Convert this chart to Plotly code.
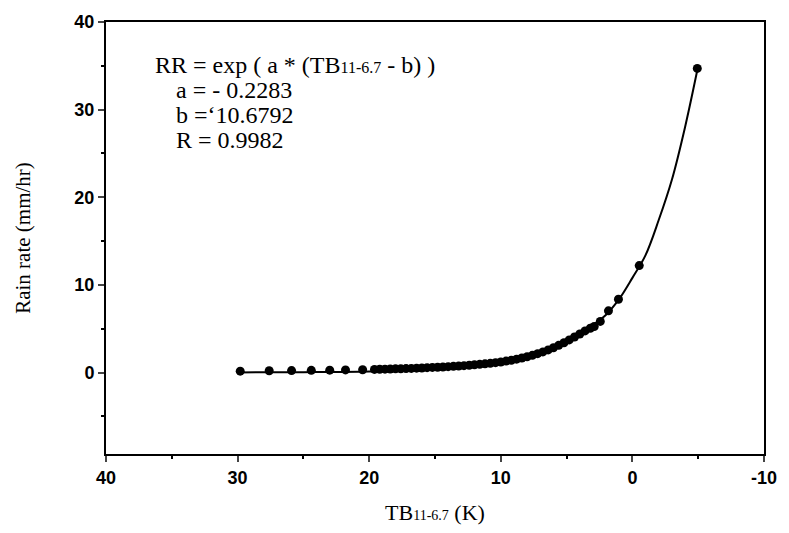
import plotly.graph_objects as go

obs_x = [29.8, 27.6, 25.9, 24.4, 23.0, 21.8, 20.5,
         19.6, 19.2, 18.8, 18.4, 18.0, 17.6, 17.2, 16.8, 16.4, 16.0, 15.6, 15.2,
         14.8, 14.4, 14.0, 13.6, 13.2, 12.8, 12.4, 12.0, 11.6, 11.2, 10.8, 10.4,
         10.0, 9.6, 9.2, 8.8, 8.4, 8.0, 7.6, 7.2, 6.8, 6.4, 6.0, 5.6, 5.2, 4.8,
         4.4, 4.0, 3.6, 3.2, 2.9,
         2.44, 1.82, 1.06, -0.52, -4.93]
obs_y = [0.15, 0.2, 0.22, 0.25, 0.27, 0.3, 0.32,
         0.35, 0.37, 0.38, 0.4, 0.42, 0.43, 0.45, 0.47, 0.5, 0.52, 0.55, 0.58,
         0.6, 0.63, 0.67, 0.7, 0.74, 0.78, 0.83, 0.88, 0.93, 0.99, 1.05, 1.12,
         1.2, 1.3, 1.4, 1.52, 1.65, 1.8, 1.96, 2.15, 2.35, 2.58, 2.83, 3.1, 3.4, 3.72,
         4.05, 4.4, 4.75, 5.05, 5.25,
         5.83, 7.04, 8.36, 12.2, 34.7]

# Fitted curve
fit_x = [30, 25, 20, 15, 10, 7, 5, 3, 2, 1, 0, -1, -2, -3, -4, -5]
fit_y = [0.01, 0.04, 0.12, 0.37, 1.17, 2.3, 3.66, 5.4, 6.6, 8.4, 10.8, 13.4, 17.4, 22.0, 28.0, 35.0]

x_ticks = [40, 30, 20, 10, 0, -10]
x_tick_text = ["40", "30", "20", "10", "0", "-10"]
y_ticks = [0, 10, 20, 30, 40]

serif = "Liberation Serif, Times New Roman, serif"
sans = "Liberation Sans, Arial, sans-serif"

fig = go.Figure()
fig.add_trace(go.Scatter(x=fit_x, y=fit_y, mode="lines",
                         line=dict(color="black", width=2, shape="spline"),
                         showlegend=False, hoverinfo="skip"))
fig.add_trace(go.Scatter(x=obs_x, y=obs_y, mode="markers",
                         marker=dict(color="black", size=9),
                         showlegend=False))

fig.add_annotation(x=0.071, y=0.901, xref="paper", yref="paper", xanchor="left", yanchor="middle",
                   text="RR = exp ( a * (TB<span style='font-size:16px'>11-6.7</span> - b) )",
                   showarrow=False, font=dict(family=serif, size=24, color="black"))
for i, t in enumerate(["a = - 0.2283", "b =‘10.6792", "R = 0.9982"]):
    fig.add_annotation(x=0.104, y=0.843 - i * 0.058, xref="paper", yref="paper",
                       xanchor="left", yanchor="middle", text=t, showarrow=False,
                       font=dict(family=serif, size=24, color="black"))

fig.update_xaxes(range=[40, -10], tickvals=x_ticks, ticktext=x_tick_text,
                 ticks="outside", ticklen=6, tickwidth=1.5,
                 minor=dict(dtick=5, ticks="outside", ticklen=3, tickcolor="black"),
                 showline=True, linecolor="black", linewidth=2, mirror=True,
                 showgrid=False, zeroline=False,
                 tickfont=dict(family=sans, size=18, color="black", weight="bold"),
                 title=dict(text="TB<span style='font-size:14px'>11-6.7</span> (K)",
                            font=dict(family=serif, size=22, color="black"), standoff=18))
fig.update_yaxes(range=[-9.3, 40], tickvals=y_ticks, ticks="outside", ticklen=6, tickwidth=1.5,
                 minor=dict(dtick=5, ticks="outside", ticklen=3, tickcolor="black"),
                 showline=True, linecolor="black", linewidth=2, mirror=True,
                 showgrid=False, zeroline=False,
                 tickfont=dict(family=sans, size=18, color="black", weight="bold"),
                 title=dict(text="Rain rate (mm/hr)",
                            font=dict(family=serif, size=21, color="black"), standoff=38))

fig.update_layout(width=789, height=533, margin=dict(l=106, r=20, t=19, b=79),
                  plot_bgcolor="white", paper_bgcolor="white")

fig.write_html("out.html")
